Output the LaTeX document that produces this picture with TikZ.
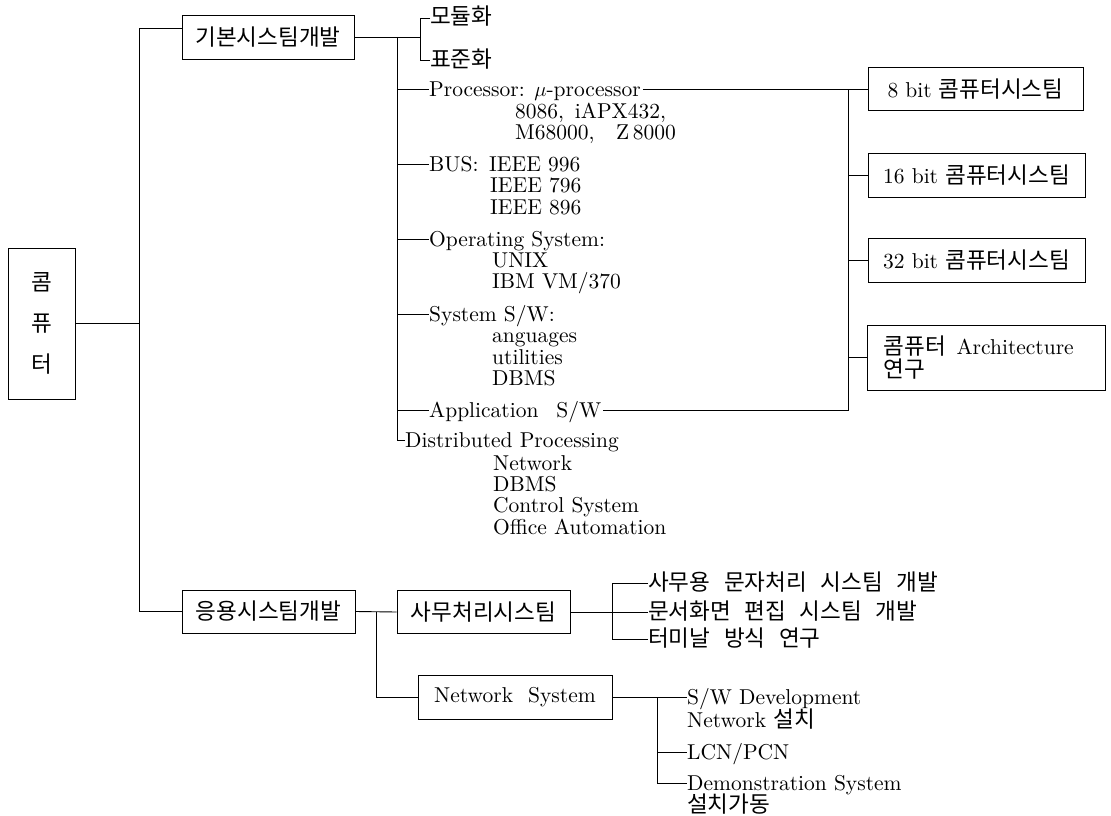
\documentclass[tikz,border=0pt]{standalone}
\usepackage{fontspec}
\setmainfont{lmroman10-regular.otf}
\newfontfamily\kr[Scale=1.05]{Noto Sans CJK KR}
\newcommand\ks{\hspace{0.6em}}
\newcommand\mklabel[4]{\node[lbl] (#1) at ({#2},{#3+7}) {#4};
  \coordinate (#1-c) at ([yshift=7pt]#1.base west);}
\begin{document}
\begin{tikzpicture}[x=1pt,y=-1pt,
  conn/.style={line width=0.9pt},
  lbl/.style={anchor=base west, inner sep=0pt, font=\fontsize{21.5}{21}\selectfont},
  box/.style={draw, line width=0.9pt, inner sep=0pt, align=center, font=\fontsize{21.5}{21}\selectfont}]
\useasboundingbox (0,0) rectangle (1111,816);

% boxes
\node[box, minimum width=67pt, minimum height=151pt, font=\fontsize{21.5}{41}\selectfont] (com) at (41.5,323.5) {{\kr 콤}\\{\kr 퓨}\\{\kr 터}};
\node[box, minimum width=172pt, minimum height=44pt] (kb) at (268,37) {\kr 기본시스팀개발};
\node[box, minimum width=215pt, minimum height=43pt] (b8) at (975.5,89) {8 bit\ {\kr 콤퓨터시스팀}};
\node[box, minimum width=217pt, minimum height=44pt] (b16) at (976.5,175) {16 bit\ {\kr 콤퓨터시스팀}};
\node[box, minimum width=217pt, minimum height=44pt] (b32) at (976.5,260) {32 bit\ {\kr 콤퓨터시스팀}};
\node[box, minimum width=238pt, minimum height=65pt, text width=205pt, align=left, font=\fontsize{21.5}{23}\selectfont] (arch) at (986,357.5) {{\kr 콤퓨터}\enspace Architecture\\{\kr 연구}};
\node[box, minimum width=173pt, minimum height=43pt] (ey) at (268.5,611.5) {\kr 응용시스팀개발};
\node[box, minimum width=173pt, minimum height=43pt] (sm) at (483.5,612) {\kr 사무처리시스팀};
\node[box, minimum width=194pt, minimum height=44pt] (ns) at (515,697) {Network\hspace{0.7em}System};

% labels
\mklabel{mo}{430}{18}{\kr 모듈화}
\mklabel{pyo}{430}{60}{\kr 표준화}
\mklabel{proc}{429}{89}{Processor: $\mu$-processor}
\mklabel{p2}{515}{111}{8086,\enspace iAPX432,}
\mklabel{p3}{515}{132}{M68000,\quad Z\,8000}
\mklabel{bus}{429}{164}{BUS:\enspace IEEE 996}
\mklabel{bus2}{490}{185}{IEEE 796}
\mklabel{bus3}{490}{207}{IEEE 896}
\mklabel{os}{429}{239}{Operating System:}
\mklabel{os2}{492}{260}{UNIX}
\mklabel{os3}{492}{281}{IBM VM/370}
\mklabel{ssw}{429}{314}{System S/W:}
\mklabel{ssw2}{492}{335}{anguages}
\mklabel{ssw3}{492}{357}{utilities}
\mklabel{ssw4}{492}{378}{DBMS}
\mklabel{app}{429}{410}{Application\enspace\ S/W}
\mklabel{dist}{405}{440}{Distributed Processing}
\mklabel{dist2}{493}{463}{Network}
\mklabel{dist3}{493}{484}{DBMS}
\mklabel{dist4}{493}{505}{Control System}
\mklabel{dist5}{493}{527}{Office Automation}
\mklabel{sa}{648}{583}{\kr 사무용\ks 문자처리\ks 시스팀\ks 개발}
\mklabel{mun}{648}{612}{\kr 문서화면\ks 편집\ks 시스팀\ks 개발}
\mklabel{ter}{648}{639}{\kr 터미날\ks 방식\ks 연구}
\mklabel{swd}{687}{697}{S/W Development}
\mklabel{nw}{687}{720}{Network {\kr 설치}}
\mklabel{lcn}{687}{752}{LCN/PCN}
\mklabel{dem}{687}{783}{Demonstration System}
\mklabel{inst}{687}{805}{\kr 설치가동}
\coordinate (proc-e) at ([xshift=2pt,yshift=7pt]proc.base east);
\coordinate (app-e) at ([xshift=2pt,yshift=7pt]app.base east);

% vertical rails
\coordinate (Lx) at (139,0);
\coordinate (Mx) at (397,0);
\coordinate (Qx) at (420,0);
\coordinate (Rx) at (848,0);
\coordinate (Bx) at (376,0);
\coordinate (Sx) at (612,0);
\coordinate (Nx) at (657,0);

% connectors
\draw[conn] ([yshift=9pt]kb.west) -| (Lx |- ey.west) -- (ey.west);
\draw[conn] (com.east) -- (com.east -| Lx);
\draw[conn] (kb.east) -- (Qx |- kb.east);
\draw[conn] (mo-c) -| (Qx |- pyo-c) -- (pyo-c);
\draw[conn] (Mx |- kb.east) |- (dist-c);
\foreach \n in {proc,bus,os,ssw,app} \draw[conn] (Mx |- \n-c) -- (\n-c);
\draw[conn] (proc-e) -- (proc-e -| b8.west);
\draw[conn] (Rx |- proc-e) |- (app-e);
\foreach \n in {b16,b32,arch} \draw[conn] (Rx |- \n.west) -- (\n.west);
\draw[conn] (ey.east) -- (sm.west);
\draw[conn] (Bx |- ey.east) |- (ns.west);
\draw[conn] (sm.east) -- (mun-c);
\draw[conn] (sa-c) -| (Sx |- ter-c) -- (ter-c);
\draw[conn] (ns.east) -- (swd-c);
\draw[conn] (Nx |- swd-c) |- (dem-c);
\draw[conn] (Nx |- lcn-c) -- (lcn-c);
\end{tikzpicture}
\end{document}
